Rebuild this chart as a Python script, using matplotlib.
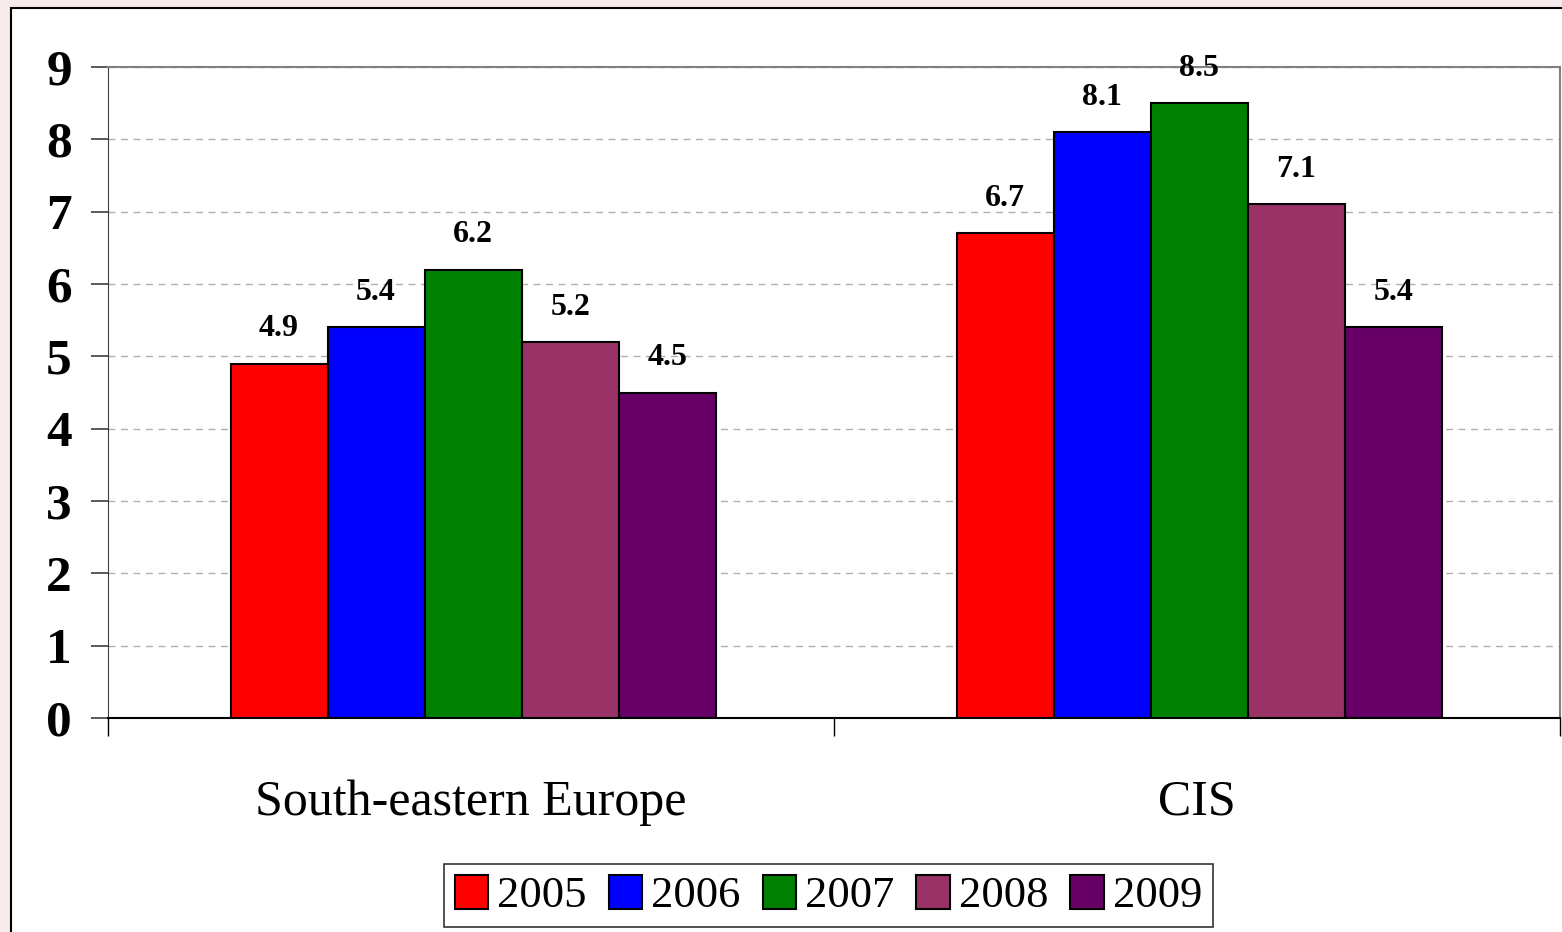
import numpy as np
import matplotlib.pyplot as plt
from matplotlib.patches import Rectangle

# data
regions = ["South-eastern Europe", "CIS"]
years = ["2005", "2006", "2007", "2008", "2009"]
see_values = [4.9, 5.4, 6.2, 5.2, 4.5]
cis_values = [6.7, 8.1, 8.5, 7.1, 5.4]
colors = ["#ff0000", "#0000ff", "#008000", "#993366", "#660066"]

values = np.array([see_values, cis_values])  # regions x years

plt.rcParams["font.family"] = ["Liberation Serif", "DejaVu Serif"]

fig = plt.figure(figsize=(15.62, 9.32), dpi=100)
fig.patch.set_facecolor("#f7eaea")
# white slide panel with black outline, behind everything
fig.patches.append(Rectangle((11 / 1562, -0.1), 1.2, (932 - 8) / 932 + 0.1,
                             transform=fig.transFigure, facecolor="white",
                             edgecolor="black", linewidth=1.5, zorder=-10))

ax = fig.add_axes([108 / 1562, 1 - 718 / 932, (1560 - 108) / 1562, (718 - 67) / 932])
ax.set_facecolor("white")

x = np.arange(len(regions))
bar_w = 0.1337
for i, yr in enumerate(years):
    pos = x + (i - 2) * bar_w + 0.003
    bars = ax.bar(pos, values[:, i], width=bar_w, color=colors[i],
                  edgecolor="black", linewidth=1.5, label=yr, zorder=3)
    for b, v in zip(bars, values[:, i]):
        ax.text(b.get_x() + b.get_width() / 2, v + 0.28, f"{v:.1f}",
                ha="center", va="bottom", fontsize=23, fontweight="bold")

ax.set_xlim(-0.5, 1.5)
ax.set_ylim(0, 9)
ax.set_yticks(range(10))
ax.set_yticklabels([str(i) for i in range(10)], fontsize=37, fontweight="bold")
ax.tick_params(axis="y", length=12, width=1.2, pad=14, color="#404040")
ax.yaxis.grid(True, linestyle=(0, (5, 4)), color="#b0b0b0", linewidth=1)
ax.set_axisbelow(True)

# category separators as x ticks, labels as minor ticks
ax.set_xticks([-0.5, 0.5, 1.5])
ax.set_xticklabels([])
ax.tick_params(axis="x", which="major", length=13, width=1, direction="out")
ax.set_xticks(x, minor=True)
ax.set_xticklabels(regions, minor=True, fontsize=36)
ax.tick_params(axis="x", which="minor", length=0, pad=44)

for s in ["top", "right"]:
    ax.spines[s].set_color("#808080")
    ax.spines[s].set_linewidth(1.5)
ax.spines["left"].set_color("#404040")
ax.spines["bottom"].set_color("black")
ax.spines["bottom"].set_linewidth(1.5)

leg = fig.legend(loc="center", bbox_to_anchor=(828.5 / 1562, 1 - 895.5 / 932),
                 ncol=5, fontsize=32, frameon=True, fancybox=False,
                 edgecolor="black", handlelength=0.75, handleheight=0.8,
                 handletextpad=0.2, columnspacing=0.5, borderpad=0.25)
leg.get_frame().set_linewidth(1.2)

fig.savefig("out.png", dpi=100, facecolor=fig.get_facecolor())
